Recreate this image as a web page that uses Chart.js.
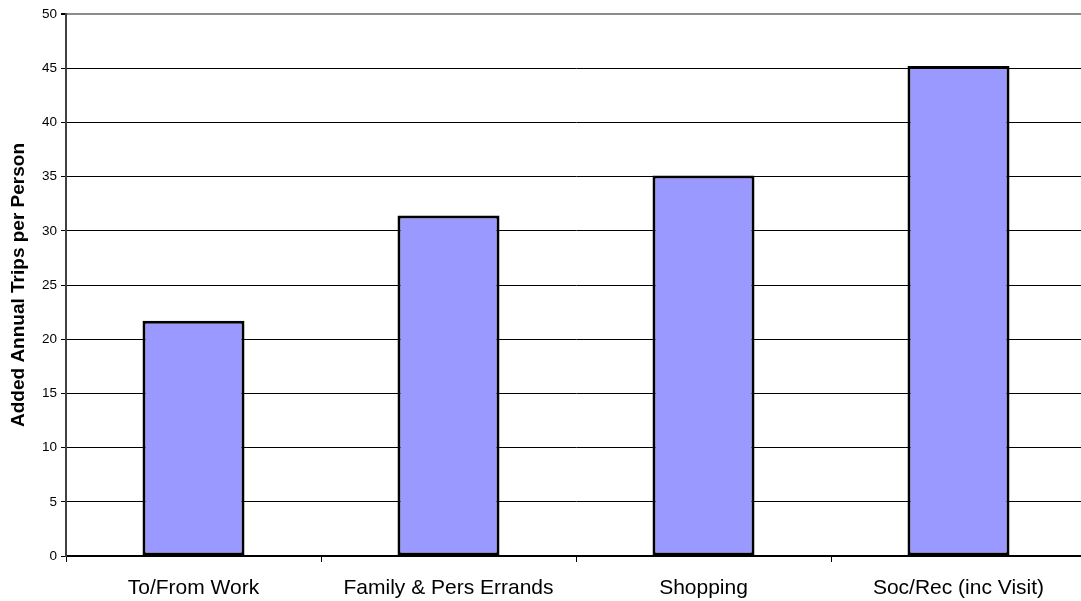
<!DOCTYPE html>
<html>
<head>
<meta charset="utf-8">
<script src="https://cdn.jsdelivr.net/npm/chart.js@4"></script>
<style>
  html, body { margin: 0; padding: 0; background: #fff; overflow: hidden; }
  #wrap { width: 1086px; height: 601px; position: relative; }
</style>
</head>
<body>
<div id="wrap"><canvas id="grafico"></canvas></div>
<script>
const categorias = ['To/From Work', 'Family & Pers Errands', 'Shopping', 'Soc/Rec (inc Visit)'];
const viajes = [21.7, 31.4, 35.1, 45.2];
const ticksY = [0, 5, 10, 15, 20, 25, 30, 35, 40, 45, 50];

const ctx = document.getElementById('grafico');

window.grafica = new Chart(ctx, {
  type: 'bar',
  data: {
    labels: categorias,
    datasets: [{
      label: 'Trips',
      data: viajes,
      backgroundColor: '#9999FF',
      borderColor: '#000000',
      borderWidth: 3,
      borderSkipped: false,
      categoryPercentage: 1,
      barPercentage: 0.4
    }]
  },
  options: {
    responsive: true,
    maintainAspectRatio: false,
    animation: false,
    layout: { padding: { top: 14, right: 0, bottom: 0, left: 0 } },
    plugins: {
      legend: { display: false },
      tooltip: { enabled: false }
    },
    scales: {
      x: {
        offset: true,
        grid: {
          offset: true,
          drawOnChartArea: false,
          drawTicks: true,
          tickLength: 6,
          color: '#000'
        },
        border: { color: '#000', width: 2 },
        ticks: {
          color: '#000',
          padding: 14,
          font: { family: 'Liberation Sans, Arial', size: 21 }
        },
        afterFit: (scale) => { scale.height = 45; }
      },
      y: {
        min: 0,
        max: 50,
        afterBuildTicks: (scale) => {
          scale.ticks = ticksY.map(v => ({ value: v }));
        },
        grid: {
          color: (c) => c.tick && c.tick.value === 50 ? '#8c8c8c' : '#000',
          lineWidth: (c) => c.tick && c.tick.value === 50 ? 2 : 1,
          tickLength: 5,
          tickColor: '#000'
        },
        border: { color: '#404040', width: 2 },
        ticks: {
          color: '#000',
          padding: 4,
          font: { family: 'Liberation Sans, Arial', size: 13.5 }
        },
        title: {
          display: true,
          text: 'Added Annual Trips per Person',
          color: '#000',
          padding: { top: 7, bottom: 0 },
          font: { family: 'Liberation Sans, Arial', size: 19, weight: 'bold' }
        },
        afterFit: (scale) => { scale.width = 66; }
      }
    }
  }
});
</script>
</body>
</html>
